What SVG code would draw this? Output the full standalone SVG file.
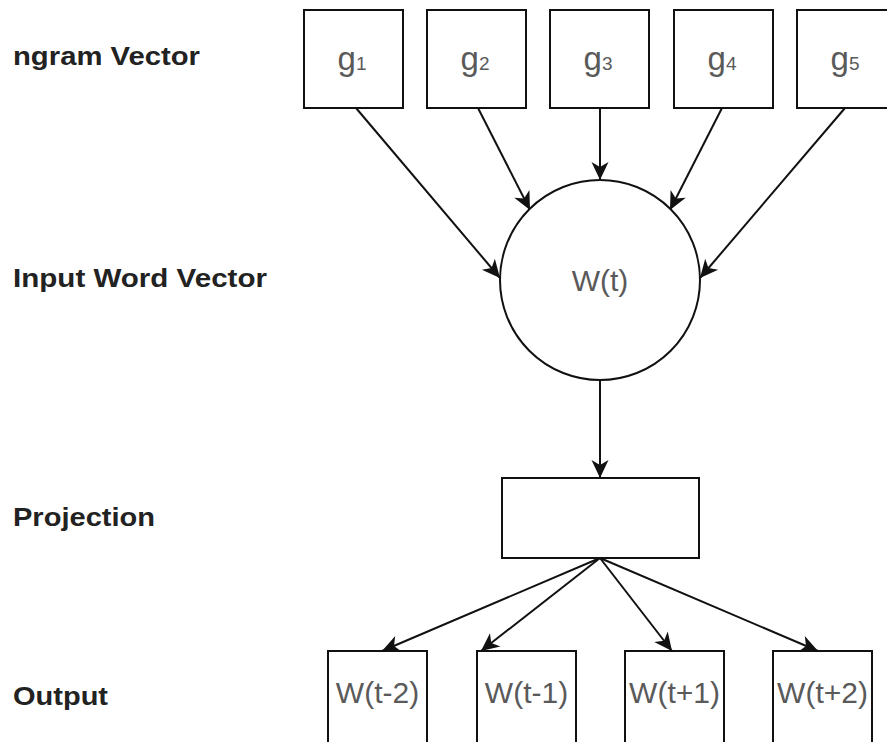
<svg xmlns="http://www.w3.org/2000/svg" width="887" height="742" viewBox="0 0 887 742">
  <style>
    .box { fill: #ffffff; stroke: #111111; stroke-width: 2; }
    .lbl { font-family: "Liberation Sans", Arial, sans-serif; font-weight: bold; font-size: 26px; fill: #222222; }
    .nt { font-family: "Liberation Sans", Arial, sans-serif; font-size: 30px; fill: #5a5a5a; text-anchor: middle; }
    .g { font-size: 33px; }
    .sub { font-size: 19px; }
    .conn { stroke: #111111; stroke-width: 2; fill: none; marker-end: url(#arrow); }
  </style>
  <defs>
    <marker id="arrow" markerUnits="userSpaceOnUse" viewBox="-19 -10 20 20" refX="0" refY="0" markerWidth="20" markerHeight="20" orient="auto">
      <path d="M0,0 L-18,-8.5 L-13,0 L-18,8.5 Z" fill="#111111"/>
    </marker>
  </defs>
  <rect width="887" height="742" fill="#ffffff"/>

  <g id="labels">
    <text class="lbl" x="13" y="65" textLength="187" lengthAdjust="spacingAndGlyphs">ngram Vector</text>
    <text class="lbl" x="13" y="287" textLength="254" lengthAdjust="spacingAndGlyphs">Input Word Vector</text>
    <text class="lbl" x="13" y="526" textLength="142" lengthAdjust="spacingAndGlyphs">Projection</text>
    <text class="lbl" x="13" y="705" textLength="95" lengthAdjust="spacingAndGlyphs">Output</text>
  </g>

  <g id="connectors">
    <line class="conn" x1="356" y1="108" x2="500" y2="278"/>
    <line class="conn" x1="478" y1="108" x2="530" y2="210"/>
    <line class="conn" x1="600" y1="108" x2="600" y2="180"/>
    <line class="conn" x1="722" y1="108" x2="670" y2="210"/>
    <line class="conn" x1="845" y1="108" x2="700" y2="278"/>
    <line class="conn" x1="600" y1="380" x2="600" y2="478"/>
    <line class="conn" x1="600" y1="558" x2="382" y2="651"/>
    <line class="conn" x1="600" y1="558" x2="481" y2="651"/>
    <line class="conn" x1="600" y1="558" x2="672" y2="651"/>
    <line class="conn" x1="600" y1="558" x2="818" y2="651"/>
  </g>

  <g id="g1"><rect class="box" x="304" y="10" width="99" height="98"/><text class="nt g" x="352" y="70">g<tspan class="sub">1</tspan></text></g>
  <g id="g2"><rect class="box" x="427" y="10" width="99" height="98"/><text class="nt g" x="475" y="70">g<tspan class="sub">2</tspan></text></g>
  <g id="g3"><rect class="box" x="550" y="10" width="99" height="98"/><text class="nt g" x="598" y="70">g<tspan class="sub">3</tspan></text></g>
  <g id="g4"><rect class="box" x="674" y="10" width="99" height="98"/><text class="nt g" x="722" y="70">g<tspan class="sub">4</tspan></text></g>
  <g id="g5"><rect class="box" x="797" y="10" width="99" height="98"/><text class="nt g" x="845" y="70">g<tspan class="sub">5</tspan></text></g>

  <g id="wt"><circle class="box" cx="600" cy="280" r="100"/><text class="nt" x="600" y="291">W(t)</text></g>

  <g id="projection"><rect class="box" x="502" y="478" width="197" height="80"/></g>

  <g id="wt-2"><rect class="box" x="328" y="651" width="99" height="99"/><text class="nt" x="377.5" y="703">W(t-2)</text></g>
  <g id="wt-1"><rect class="box" x="477" y="651" width="99" height="99"/><text class="nt" x="526.5" y="703">W(t-1)</text></g>
  <g id="wt+1"><rect class="box" x="625" y="651" width="99" height="99"/><text class="nt" x="674.5" y="703">W(t+1)</text></g>
  <g id="wt+2"><rect class="box" x="773" y="651" width="99" height="99"/><text class="nt" x="822.5" y="703">W(t+2)</text></g>
</svg>
